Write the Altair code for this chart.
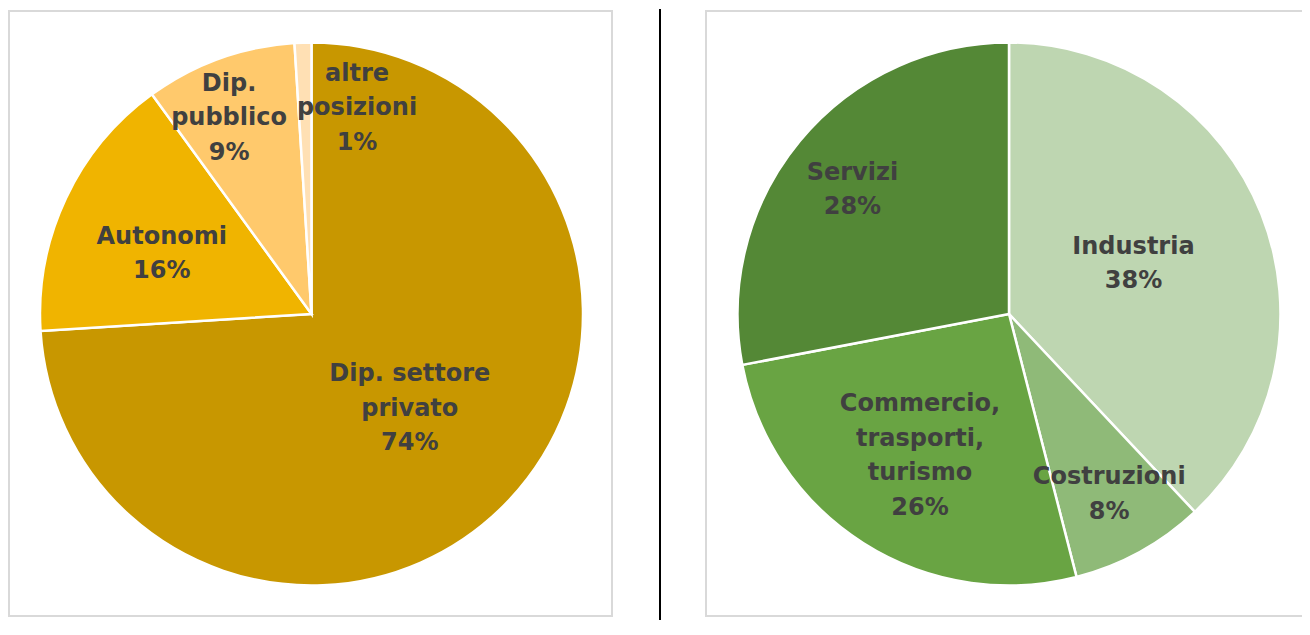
import altair as alt
import pandas as pd

# ---- data ----
left_categories = ["Dip. settore privato", "Autonomi", "Dip. pubblico", "altre posizioni"]
left_labels = ["Dip. settore\nprivato", "Autonomi", "Dip.\npubblico", "altre\nposizioni"]
left_values = [74, 16, 9, 1]

right_categories = ["Industria", "Costruzioni", "Commercio, trasporti, turismo", "Servizi"]
right_labels = ["Industria", "Costruzioni", "Commercio,\ntrasporti,\nturismo", "Servizi"]
right_values = [38, 8, 26, 28]

# ---- styles / layout ----
left_colors = ["#C89700", "#F0B400", "#FFC96C", "#FFE0B4"]
right_colors = ["#BED6B1", "#8FBA78", "#69A443", "#548836"]
TEXT_COLOR = "#404040"
FONT = "DejaVu Sans"
FONT_SIZE = 24
LINE_H = 34.5

W, H = 1294, 612
LEFT_C = (301.5, 305)
RIGHT_C = (999, 305)
R = 271.5

# per-label placement (radius from centre, extra dx, dy)
left_place = {
    "Dip. settore privato": (128, 5, 7),
    "Autonomi": (160, -5, 8),
    "Dip. pubblico": (205, -13, -3),
    "altre posizioni": (206, 52, 0),
}
right_place = {
    "Industria": (136, -2, 0),
    "Costruzioni": (206, 1, 0),
    "Commercio, trasporti, turismo": (168, 1, 0),
    "Servizi": (198, -4, 2),
}


def make_df(cats, labels, vals):
    return pd.DataFrame({
        "cat": cats,
        "label": [f"{l}\n{v}%" for l, v in zip(labels, vals)],
        "value": vals,
        "idx": list(range(len(cats))),
    })


def pie(df, colors, center, place):
    total = float(df["value"].sum())
    base = alt.Chart(df)
    arc = base.mark_arc(radius=R, stroke="white", strokeWidth=2.5).encode(
        theta=alt.Theta("value:Q", stack=True, scale=alt.Scale(domain=[0, total])),
        color=alt.Color("cat:N", scale=alt.Scale(domain=list(df["cat"]), range=colors), legend=None),
        order=alt.Order("idx:Q"),
        x=alt.value(center[0]),
        y=alt.value(center[1]),
    )
    layers = [arc]
    label_of = dict(zip(df["cat"], df["label"]))
    for cat, (rad, dx, dy) in place.items():
        n_lines = label_of[cat].count("\n") + 1
        shift = -(n_lines - 1) * LINE_H / 2
        t = (
            base.transform_window(cum="sum(value)", sort=[{"field": "idx"}], frame=[None, 0])
            .transform_calculate(mid="datum.cum - datum.value / 2")
            .transform_filter(alt.datum.cat == cat)
            .mark_text(
                radius=rad, dx=dx, dy=dy + shift, font=FONT, fontSize=FONT_SIZE, fontWeight="bold",
                color=TEXT_COLOR, lineBreak="\n", lineHeight=LINE_H, align="center", baseline="middle",
            )
            .encode(
                theta=alt.Theta("mid:Q", scale=alt.Scale(domain=[0, total])),
                text="label:N",
                x=alt.value(center[0]),
                y=alt.value(center[1]),
            )
        )
        layers.append(t)
    return alt.layer(*layers).resolve_scale(color="independent")


left_df = make_df(left_categories, left_labels, left_values)
right_df = make_df(right_categories, right_labels, right_values)

box_df = pd.DataFrame({"b": [0]})
box_left = alt.Chart(box_df).mark_rect(filled=False, stroke="#D9D9D9", strokeWidth=2).encode(
    x=alt.value(-1), x2=alt.value(602), y=alt.value(2), y2=alt.value(607)
)
box_right = alt.Chart(box_df).mark_rect(filled=False, stroke="#D9D9D9", strokeWidth=2).encode(
    x=alt.value(696), x2=alt.value(1293), y=alt.value(2), y2=alt.value(607)
)
divider = alt.Chart(box_df).mark_rule(color="black", strokeWidth=2).encode(
    x=alt.value(650), y=alt.value(0), y2=alt.value(H)
)

chart = (
    alt.layer(
        box_left, box_right, divider,
        pie(left_df, left_colors, LEFT_C, left_place),
        pie(right_df, right_colors, RIGHT_C, right_place),
    )
    .resolve_scale(color="independent", theta="independent")
    .properties(width=W, height=H, padding=0,
                autosize=alt.AutoSizeParams(type="fit", contains="padding"))
    .configure_view(stroke=None)
)

chart.save("out.html", embed_options={"renderer": "svg", "actions": False})
